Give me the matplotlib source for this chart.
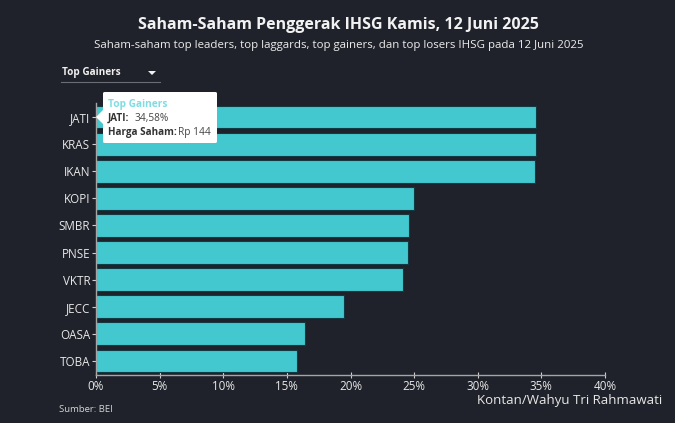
import matplotlib
matplotlib.use("Agg")
import matplotlib.pyplot as plt
from matplotlib.patches import FancyBboxPatch, Polygon

tickers = ["JATI", "KRAS", "IKAN", "KOPI", "SMBR", "PNSE", "VKTR", "JECC", "OASA", "TOBA"]
gains = [34.58, 34.55, 34.5, 25.0, 24.6, 24.5, 24.15, 19.5, 16.4, 15.8]
x_ticks = [0, 5, 10, 15, 20, 25, 30, 35, 40]
x_labels = ["0%", "5%", "10%", "15%", "20%", "25%", "30%", "35%", "40%"]

W, H = 675, 423
BG = "#1f222a"
BAR = "#43c8cf"
TXT = "#e8e8e8"
plt.rcParams['font.family'] = ['Open Sans', 'DejaVu Sans']

fig = plt.figure(figsize=(W/100, H/100), dpi=100, facecolor=BG)
ax = fig.add_axes([96/W, 1-374.5/H, (605-96)/W, (374.5-103.5)/H], facecolor=BG)
pos = list(range(len(tickers)))
ax.barh(pos, gains, height=0.84, color=BAR, edgecolor="#123a42", linewidth=0.8, zorder=2)
ax.set_xlim(0, 40)
ax.set_ylim(len(tickers)-0.5, -0.5)
ax.set_yticks(pos, tickers)
ax.set_xticks(x_ticks, x_labels)
ax.tick_params(axis='y', length=3, width=0.8, color="#cfcfcf", labelcolor=TXT, labelsize=8.4, pad=1.2)
ax.tick_params(axis='x', length=5, width=0.8, color="#cfcfcf", labelcolor=TXT, labelsize=8.4, pad=1.5, direction='inout')
for s in ("top", "right"):
    ax.spines[s].set_visible(False)
for s in ("left", "bottom"):
    ax.spines[s].set_color("#a5a5a5")
    ax.spines[s].set_linewidth(1.0)

def fx(x): return x/W
def fy(y): return 1-y/H

fig.text(fx(338.5), fy(25), "Saham-Saham Penggerak IHSG Kamis, 12 Juni 2025", color="#f2f2f2",
         fontsize=11.55, fontweight='bold', ha='center', va='center')
fig.text(fx(339), fy(45.5), "Saham-saham top leaders, top laggards, top gainers, dan top losers IHSG pada 12 Juni 2025",
         color="#ececec", fontsize=8.25, ha='center', va='center')
fig.text(fx(62), fy(73), "Top Gainers", color="#f0f0f0", fontsize=7.2, fontweight='bold', ha='left', va='center')
fig.add_artist(Polygon([(fx(148), fy(71)), (fx(156), fy(71)), (fx(152), fy(75))], closed=True,
                       transform=fig.transFigure, facecolor="#f0f0f0", edgecolor="none"))
fig.add_artist(plt.Line2D([fx(61), fx(160)], [fy(82), fy(82)], color="#6a6d73", lw=0.8))

# tooltip
fig.add_artist(FancyBboxPatch((fx(103), fy(143)), 114/W, 51/H, boxstyle="round,pad=0,rounding_size=0.003",
                              transform=fig.transFigure, facecolor="white", edgecolor="none", zorder=5))
fig.add_artist(Polygon([(fx(96), fy(117)), (fx(104), fy(109)), (fx(104), fy(125))], closed=True,
                       transform=fig.transFigure, facecolor="white", edgecolor="none", zorder=5))
fig.text(fx(108), fy(104.5), "Top Gainers", color="#7fdde2", fontsize=7.3, fontweight='bold', va='center', zorder=6)
fig.text(fx(108), fy(118), "JATI:", color="#333333", fontsize=7.1, fontweight='bold', va='center', zorder=6)
fig.text(fx(134.5), fy(118), "34,58%", color="#444444", fontsize=7.3, va='center', zorder=6)
fig.text(fx(108), fy(132), "Harga Saham:", color="#333333", fontsize=7.1, fontweight='bold', va='center', zorder=6)
fig.text(fx(178), fy(132), "Rp 144", color="#444444", fontsize=7.3, va='center', zorder=6)

fig.text(fx(59), fy(409.5), "Sumber: BEI", color="#d5d5d5", fontsize=6.8, ha='left', va='center')
fig.text(fx(662), fy(400), "Kontan/Wahyu Tri Rahmawati", color="#e8e8e8", fontsize=9.55, ha='right', va='center')

fig.savefig("out.png", dpi=100, facecolor=BG)
